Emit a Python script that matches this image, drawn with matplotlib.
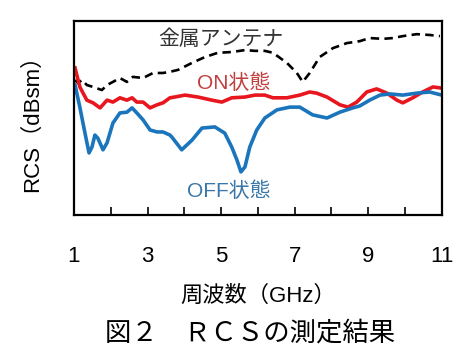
import matplotlib

matplotlib.use("Agg")
import matplotlib.pyplot as plt  # noqa: E402

plt.rcParams["font.family"] = ["Liberation Sans", "Noto Sans CJK JP"]

# metal antenna (dashed black)
metal_ghz = [1.03, 1.11, 1.22, 1.35, 1.52, 1.76, 1.90, 2.06, 2.25, 2.44, 2.60, 2.88, 3.15,
             3.42, 3.61, 3.83, 4.21, 4.56, 4.91, 5.29, 5.65, 5.92, 6.19, 6.41, 6.79, 7.06,
             7.22, 7.41, 7.68, 8.04, 8.42, 8.77, 9.04, 9.40, 9.67, 9.94, 10.32, 10.67, 10.95]
metal_rcs = [-15.2, -16.0, -15.2, -16.5, -17.0, -17.8, -16.5, -15.7, -14.7, -15.7, -14.4, -14.7,
             -13.4, -13.4, -13.1, -12.6, -10.8, -9.3, -8.2, -8.0, -7.5, -7.7, -7.7, -8.2, -10.8,
             -13.4, -15.7, -13.4, -9.3, -7.0, -5.7, -5.2, -4.4, -4.6, -4.4, -3.9, -3.4, -3.6, -3.9]

# ON state (red)
on_ghz = [1.03, 1.16, 1.35, 1.52, 1.71, 1.90, 2.06, 2.25, 2.44, 2.58, 2.71, 2.88, 3.07, 3.26,
          3.42, 3.61, 3.74, 4.02, 4.37, 4.75, 5.02, 5.29, 5.65, 5.92, 6.19, 6.41, 6.79, 7.14,
          7.41, 7.60, 7.88, 8.23, 8.45, 8.69, 8.96, 9.23, 9.51, 9.78, 9.94, 10.21, 10.48,
          10.76, 11.0]
on_rcs = [-12.1, -17.0, -20.4, -21.1, -22.4, -20.4, -20.9, -19.8, -20.4, -19.8, -20.9, -20.9,
          -22.4, -21.6, -21.1, -19.8, -19.6, -19.1, -19.6, -20.4, -20.9, -19.8, -19.6, -19.1,
          -19.1, -19.8, -19.8, -19.1, -18.3, -18.6, -19.6, -21.6, -22.2, -20.9, -18.3, -17.5,
          -18.6, -20.4, -21.1, -19.8, -18.3, -17.0, -17.3]

# OFF state (blue)
off_ghz = [1.03, 1.16, 1.30, 1.41, 1.49, 1.57, 1.65, 1.79, 1.90, 2.06, 2.25, 2.44, 2.58, 2.71,
           2.88, 3.07, 3.26, 3.42, 3.61, 3.66, 3.93, 4.21, 4.48, 4.83, 5.10, 5.29, 5.43, 5.54,
           5.65, 5.78, 5.97, 6.19, 6.52, 6.87, 7.14, 7.49, 7.88, 8.23, 8.58, 8.77, 9.04, 9.32,
           9.59, 9.94, 10.32, 10.67, 11.0]
off_rcs = [-16.5, -22.2, -28.9, -34.0, -32.5, -29.4, -30.2, -33.2, -31.4, -26.3, -23.7, -23.5,
           -22.4, -23.7, -25.5, -28.1, -28.6, -28.6, -29.4, -29.9, -33.2, -30.7, -27.6, -27.3,
           -28.9, -32.5, -35.8, -38.9, -37.6, -32.5, -28.1, -25.0, -22.9, -22.2, -22.2, -24.2,
           -25.0, -23.5, -22.4, -21.9, -20.4, -19.1, -18.8, -19.1, -18.6, -18.3, -19.1]

x_ticks = list(range(1, 12))
x_tick_labels = [str(t) if t % 2 == 1 else "" for t in x_ticks]

fig = plt.figure(figsize=(4.74, 3.51), dpi=100)
ax = fig.add_axes([0.156, 0.3875, 0.776, 0.5527])

ax.plot(metal_ghz, metal_rcs, color="black", linewidth=1.9, linestyle=(0, (3.2, 2.0)))
ax.plot(on_ghz, on_rcs, color="#e8161e", linewidth=2.6)
ax.plot(off_ghz, off_rcs, color="#1b75bc", linewidth=2.6)

ax.text(5.0, -4.6, "金属アンテナ", fontsize=15, color="#333333", ha="center", va="center")
ax.text(5.35, -16.0, "ON状態", fontsize=15, color="#c0403e", ha="center", va="center")
ax.text(5.2, -43.8, "OFF状態", fontsize=15, color="#3a77a8", ha="center", va="center")

ax.set_xlim(1, 11)
ax.set_ylim(-50, 0)
ax.set_xticks(x_ticks)
ax.set_xticklabels(x_tick_labels, fontsize=16)
ax.set_yticks([])
ax.tick_params(axis="x", direction="in", length=6, width=1.2, pad=22)
for spine in ax.spines.values():
    spine.set_linewidth(1.6)

ax.set_xlabel("周波数（GHz）", fontsize=16, labelpad=14)
ax.set_ylabel("RCS（dBsm）", fontsize=16)
ax.yaxis.set_label_coords(-0.085, 0.5)

fig.text(0.527, 0.03, "図２　ＲＣＳの測定結果", fontsize=19, ha="center", va="baseline")

fig.savefig("out.png", dpi=100)
